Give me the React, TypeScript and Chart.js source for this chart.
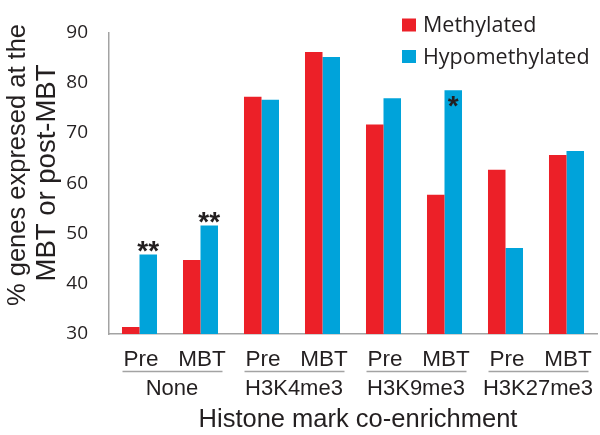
import React, { useEffect, useRef } from "react";
import { Chart, registerables } from "chart.js";

Chart.register(...registerables);

const categories = ["Pre", "MBT", "Pre", "MBT", "Pre", "MBT", "Pre", "MBT"];
const groups = ["None", "H3K4me3", "H3K9me3", "H3K27me3"];
const seriesNames = ["Methylated", "Hypomethylated"];
const methylated = [31.4, 44.7, 77.2, 86.1, 71.7, 57.7, 62.7, 65.6];
const hypomethylated = [45.8, 51.6, 76.6, 85.1, 76.9, 78.5, 47.1, 66.4];
const hypoStars = ["**", "**", "", "", "", "*", "", ""];
const hypoStarInside = [false, false, false, false, false, true, false, false];
const yMin = 30;
const yMax = 90;
const yStep = 10;
const yTitleLines = ["% genes expresed at the", "MBT or post-MBT"];
const xTitle = "Histone mark co-enrichment";

const RED = "#ec2028";
const BLUE = "#00a3da";
const TEXT = "#231f20";
const AXIS = "#a3a3a3";
const SANS = "'Liberation Sans', Arial, sans-serif";
const HUMAN = "'Open Sans', sans-serif";

const overlay = {
  id: "overlay",
  afterDraw(chart: any) {
    const ctx = chart.ctx as CanvasRenderingContext2D;
    const xs = chart.scales.x;
    ctx.save();
    ctx.fillStyle = TEXT;

    // category labels
    ctx.font = `22.5px ${SANS}`;
    ctx.textAlign = "center";
    ctx.textBaseline = "alphabetic";
    categories.forEach((c, i) => {
      ctx.fillText(c, xs.getPixelForValue(i) + 1.5, 366);
    });

    // group underlines and labels
    groups.forEach((g, gi) => {
      const a = xs.getPixelForValue(gi * 2);
      const b = xs.getPixelForValue(gi * 2 + 1);
      ctx.strokeStyle = AXIS;
      ctx.lineWidth = 1.5;
      ctx.beginPath();
      ctx.moveTo(a - 17, 371.5);
      ctx.lineTo(b + 22, 371.5);
      ctx.stroke();
      ctx.fillStyle = TEXT;
      ctx.font = `22px ${SANS}`;
      ctx.fillText(g, (a + b) / 2 + 2, 395);
    });

    // x title
    ctx.font = `25.5px ${SANS}`;
    ctx.fillText(xTitle, 358, 427);

    // y title
    const baseXs = [25, 55];
    const centers = [165, 173];
    const sizes = [25.5, 27.5];
    yTitleLines.forEach((t, i) => {
      ctx.save();
      ctx.translate(baseXs[i], centers[i]);
      ctx.rotate(-Math.PI / 2);
      ctx.font = `${sizes[i]}px ${SANS}`;
      ctx.textAlign = "center";
      ctx.textBaseline = "alphabetic";
      ctx.fillText(t, 0, 0);
      ctx.restore();
    });

    // stars
    const meta = chart.getDatasetMeta(1);
    ctx.font = `bold 28px ${SANS}`;
    ctx.textAlign = "center";
    ctx.textBaseline = "alphabetic";
    hypoStars.forEach((s, i) => {
      if (!s) return;
      const el = meta.data[i];
      const m = ctx.measureText(s);
      const inkMid = (m.actualBoundingBoxAscent - m.actualBoundingBoxDescent) / 2;
      const target = hypoStarInside[i] ? el.y + 11 : el.y - 8;
      ctx.fillStyle = TEXT;
      ctx.fillText(s, el.x, target + inkMid);
    });

    // legend
    ctx.font = `21.5px ${HUMAN}`;
    ctx.textAlign = "left";
    ctx.textBaseline = "middle";
    chart.data.datasets.forEach((ds: any, i: number) => {
      const y = 25 + i * 31.5;
      ctx.fillStyle = ds.backgroundColor;
      ctx.fillRect(402, y - 6.5, 14, 13);
      ctx.fillStyle = TEXT;
      ctx.fillText(ds.label, 423, y + 1);
    });

    ctx.restore();
  },
};

export default function App() {
  const ref = useRef<HTMLCanvasElement>(null);
  useEffect(() => {
    document.body.style.margin = "0";
    if (!ref.current) return;
    const chart = new Chart(ref.current, {
      type: "bar",
      data: {
        labels: categories,
        datasets: [
          { label: seriesNames[0], data: methylated, backgroundColor: RED, borderWidth: 0 },
          { label: seriesNames[1], data: hypomethylated, backgroundColor: BLUE, borderWidth: 0 },
        ],
      },
      options: {
        responsive: false,
        animation: false,
        devicePixelRatio: 1,
        layout: { padding: { top: 12, right: 3, left: 0, bottom: 0 } },
        datasets: { bar: { categoryPercentage: 0.574, barPercentage: 1 } },
        plugins: { legend: { display: false }, tooltip: { enabled: false } },
        scales: {
          x: {
            type: "category",
            grid: { display: false, drawTicks: false },
            border: { display: true, color: AXIS, width: 1.5 },
            ticks: { display: false },
            afterFit: (s: any) => {
              s.height = 101;
            },
          },
          y: {
            min: yMin,
            max: yMax,
            grid: { display: false, drawTicks: false },
            border: { display: true, color: AXIS, width: 1.5 },
            ticks: {
              stepSize: yStep,
              padding: 21,
              color: TEXT,
              font: { family: HUMAN, size: 19 },
            },
            afterFit: (s: any) => {
              s.width = 109;
            },
          },
        },
      },
      plugins: [overlay],
    });
    return () => chart.destroy();
  }, []);
  return (
    <div style={{ position: "absolute", left: 0, top: 0, width: 600, height: 435 }}>
      <canvas ref={ref} width={600} height={435} />
    </div>
  );
}
